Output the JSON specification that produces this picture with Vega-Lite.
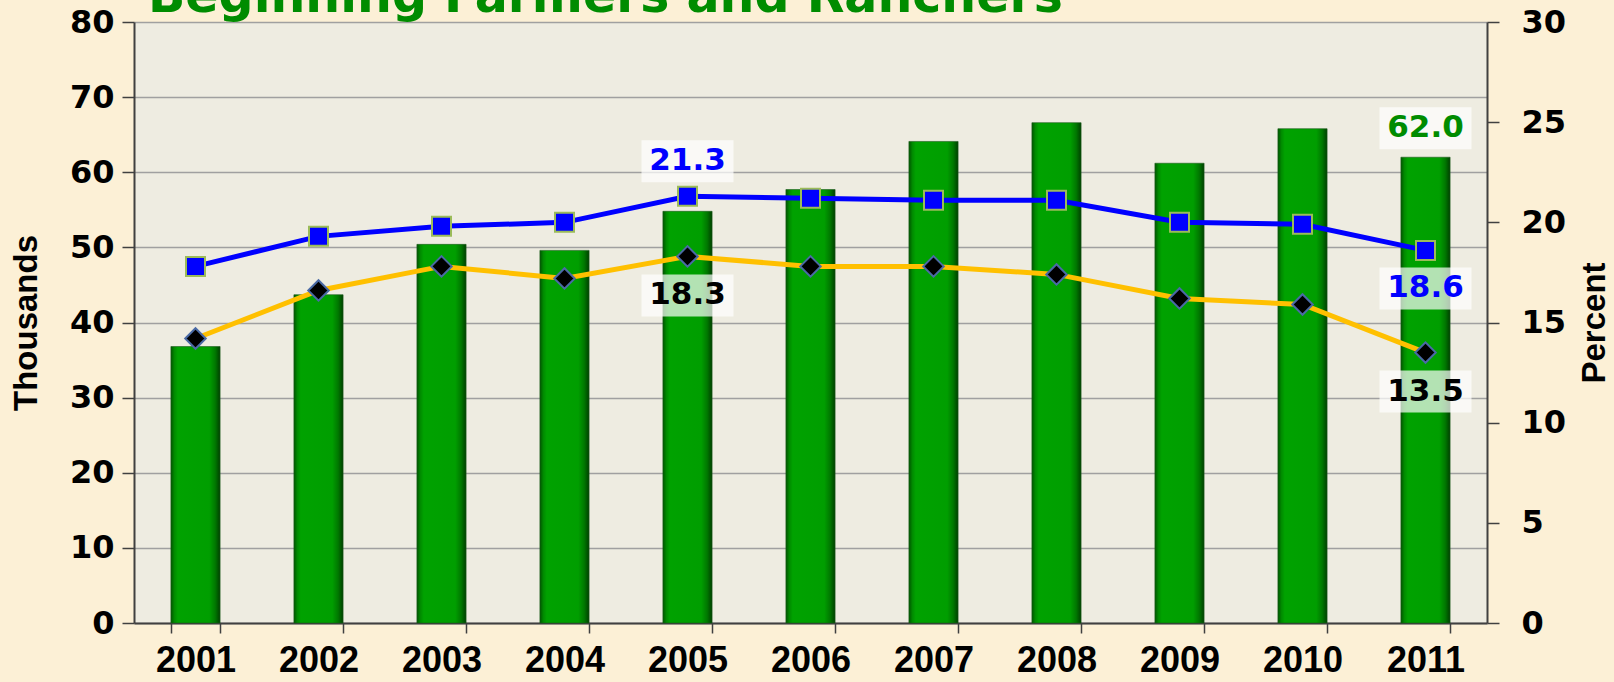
{
  "$schema": "https://vega.github.io/schema/vega-lite/v6.json",
  "width": 1353,
  "height": 601,
  "autosize": "none",
  "padding": {"left": 134, "top": 22, "right": 127, "bottom": 59},
  "background": "#fcf0d6",
  "title": {"text": "Beginning Farmers and Ranchers", "anchor": "start", "frame": "group", "font": "DejaVu Sans", "fontWeight": "bold", "fontSize": 49, "color": "#008c00", "baseline": "alphabetic", "offset": -55, "dx": 14},
  "data": {"values": [
    {"year": "2001", "thousands": 36.8, "blue": 17.8, "yellow": 14.2},
    {"year": "2002", "thousands": 43.7, "blue": 19.3, "yellow": 16.6},
    {"year": "2003", "thousands": 50.4, "blue": 19.8, "yellow": 17.8},
    {"year": "2004", "thousands": 49.6, "blue": 20.0, "yellow": 17.2},
    {"year": "2005", "thousands": 54.8, "blue": 21.3, "yellow": 18.3},
    {"year": "2006", "thousands": 57.7, "blue": 21.2, "yellow": 17.8},
    {"year": "2007", "thousands": 64.1, "blue": 21.1, "yellow": 17.8},
    {"year": "2008", "thousands": 66.6, "blue": 21.1, "yellow": 17.4},
    {"year": "2009", "thousands": 61.2, "blue": 20.0, "yellow": 16.2},
    {"year": "2010", "thousands": 65.8, "blue": 19.9, "yellow": 15.9},
    {"year": "2011", "thousands": 62.0, "blue": 18.6, "yellow": 13.5}
  ]},
  "encoding": {
    "x": {"field": "year", "type": "ordinal", "scale": {"paddingInner": 0.6, "paddingOuter": 0.3},
      "axis": {"title": null, "tickBand": "extent", "labelAngle": 0, "labelFont": "Liberation Sans", "labelFontWeight": "bold", "labelFontSize": 36, "labelColor": "#000000", "labelPadding": 10, "tickSize": 10, "tickColor": "#404040", "tickWidth": 1.5, "domainColor": "#404040", "domainWidth": 2, "grid": false}}
  },
  "layer": [
    {
      "mark": {"type": "bar", "stroke": "#1d5c1d", "strokeWidth": 1, "strokeOpacity": 0.6,
        "color": {"gradient": "linear", "x1": 0, "y1": 0, "x2": 1, "y2": 0, "stops": [
          {"offset": 0, "color": "#005500"}, {"offset": 0.07, "color": "#008a00"}, {"offset": 0.14, "color": "#00a200"},
          {"offset": 0.78, "color": "#009e00"}, {"offset": 0.9, "color": "#007800"}, {"offset": 1, "color": "#004000"}]}},
      "encoding": {
        "y": {"field": "thousands", "type": "quantitative", "scale": {"domain": [0, 80], "nice": false},
          "axis": {"title": "Thousands", "values": [0, 10, 20, 30, 40, 50, 60, 70, 80], "grid": true, "gridColor": "#a0a0a0", "gridWidth": 1.5,
            "tickSize": 12, "tickColor": "#404040", "tickWidth": 1.5, "domainColor": "#404040", "domainWidth": 2,
            "labelFont": "DejaVu Sans", "labelFontWeight": "bold", "labelFontSize": 32, "labelColor": "#000000", "labelPadding": 8,
            "titleFont": "Liberation Sans", "titleFontWeight": "bold", "titleFontSize": 33, "titleColor": "#000000", "titlePadding": 26}}
      }
    },
    {
      "mark": {"type": "line", "color": "#0000ff", "strokeWidth": 5},
      "encoding": {
        "y": {"field": "blue", "type": "quantitative", "scale": {"domain": [0, 30], "nice": false},
          "axis": {"orient": "right", "title": "Percent", "values": [0, 5, 10, 15, 20, 25, 30], "grid": false,
            "tickSize": 12, "tickColor": "#404040", "tickWidth": 1.5, "domainColor": "#404040", "domainWidth": 2,
            "labelFont": "DejaVu Sans", "labelFontWeight": "bold", "labelFontSize": 32, "labelColor": "#000000", "labelPadding": 22,
            "titleFont": "Liberation Sans", "titleFontWeight": "bold", "titleFontSize": 33, "titleColor": "#000000", "titlePadding": 13, "titleAngle": -90, "titleBaseline": "top"}}
      }
    },
    {
      "mark": {"type": "line", "color": "#ffc000", "strokeWidth": 5},
      "encoding": {"y": {"field": "yellow", "type": "quantitative", "scale": {"domain": [0, 30], "nice": false}, "axis": null}}
    },
    {
      "mark": {"type": "point", "shape": "square", "filled": true, "fill": "#0000ff", "stroke": "#9bbb59", "strokeWidth": 2, "size": 361, "opacity": 1},
      "encoding": {"y": {"field": "blue", "type": "quantitative", "scale": {"domain": [0, 30], "nice": false}, "axis": null}}
    },
    {
      "mark": {"type": "point", "shape": "diamond", "filled": true, "fill": "#000000", "stroke": "#4a6aa5", "strokeWidth": 2, "size": 420, "opacity": 1},
      "encoding": {"y": {"field": "yellow", "type": "quantitative", "scale": {"domain": [0, 30], "nice": false}, "axis": null}}
    },
    {
      "transform": [{"filter": "datum.year == '2005'"}],
      "mark": {"type": "point", "shape": "M-0.92,-1.12H0.92V-0.28H-0.92Z", "filled": true, "fill": "#ffffff", "fillOpacity": 0.7, "strokeWidth": 0, "size": 10000, "opacity": 1},
      "encoding": {"y": {"field": "blue", "type": "quantitative", "scale": {"domain": [0, 30], "nice": false}, "axis": null}}
    },
    {
      "transform": [{"filter": "datum.year == '2011'"}],
      "mark": {"type": "point", "shape": "M-0.92,0.34H0.92V1.18H-0.92Z", "filled": true, "fill": "#ffffff", "fillOpacity": 0.7, "strokeWidth": 0, "size": 10000, "opacity": 1},
      "encoding": {"y": {"field": "blue", "type": "quantitative", "scale": {"domain": [0, 30], "nice": false}, "axis": null}}
    },
    {
      "transform": [{"filter": "datum.year == '2005' || datum.year == '2011'"}],
      "mark": {"type": "point", "shape": "M-0.92,0.36H0.92V1.2H-0.92Z", "filled": true, "fill": "#ffffff", "fillOpacity": 0.7, "strokeWidth": 0, "size": 10000, "opacity": 1},
      "encoding": {"y": {"field": "yellow", "type": "quantitative", "scale": {"domain": [0, 30], "nice": false}, "axis": null}}
    },
    {
      "transform": [{"filter": "datum.year == '2011'"}],
      "mark": {"type": "point", "shape": "M-0.92,-1.0H0.92V-0.16H-0.92Z", "filled": true, "fill": "#ffffff", "fillOpacity": 0.7, "strokeWidth": 0, "size": 10000, "opacity": 1},
      "encoding": {"y": {"field": "thousands", "type": "quantitative", "scale": {"domain": [0, 80], "nice": false}, "axis": null}}
    },
    {
      "transform": [{"filter": "datum.year == '2005'"}],
      "mark": {"type": "text", "font": "DejaVu Sans", "fontWeight": "bold", "fontSize": 31, "color": "#0000ff", "baseline": "middle", "dy": -35},
      "encoding": {"y": {"field": "blue", "type": "quantitative", "scale": {"domain": [0, 30], "nice": false}, "axis": null},
        "text": {"field": "blue", "type": "quantitative", "format": ".1f"}}
    },
    {
      "transform": [{"filter": "datum.year == '2011'"}],
      "mark": {"type": "text", "font": "DejaVu Sans", "fontWeight": "bold", "fontSize": 31, "color": "#0000ff", "baseline": "middle", "dy": 38},
      "encoding": {"y": {"field": "blue", "type": "quantitative", "scale": {"domain": [0, 30], "nice": false}, "axis": null},
        "text": {"field": "blue", "type": "quantitative", "format": ".1f"}}
    },
    {
      "transform": [{"filter": "datum.year == '2005' || datum.year == '2011'"}],
      "mark": {"type": "text", "font": "DejaVu Sans", "fontWeight": "bold", "fontSize": 31, "color": "#000000", "baseline": "middle", "dy": 39},
      "encoding": {"y": {"field": "yellow", "type": "quantitative", "scale": {"domain": [0, 30], "nice": false}, "axis": null},
        "text": {"field": "yellow", "type": "quantitative", "format": ".1f"}}
    },
    {
      "transform": [{"filter": "datum.year == '2011'"}],
      "mark": {"type": "text", "font": "DejaVu Sans", "fontWeight": "bold", "fontSize": 31, "color": "#008c00", "baseline": "middle", "dy": -29},
      "encoding": {"y": {"field": "thousands", "type": "quantitative", "scale": {"domain": [0, 80], "nice": false}, "axis": null},
        "text": {"field": "thousands", "type": "quantitative", "format": ".1f"}}
    }
  ],
  "resolve": {"scale": {"y": "independent"}},
  "config": {"view": {"fill": "#eeece1", "stroke": null}}
}
